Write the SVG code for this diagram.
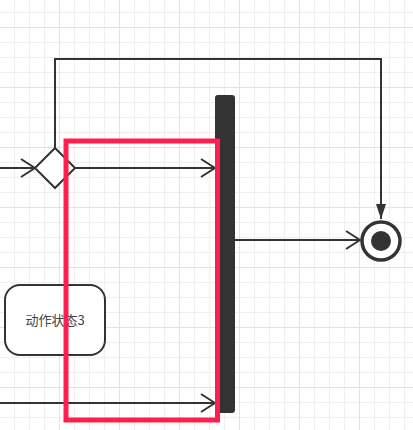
<svg xmlns="http://www.w3.org/2000/svg" width="413" height="430" viewBox="0 0 413 430">
  <defs>
    <pattern id="grid" x="0" y="0" width="60" height="60" patternUnits="userSpaceOnUse">
      <path d="M14.5 0V60M29.5 0V60M44.5 0V60M0 12.5H60M0 42.5H60M0 57.5H60" stroke="#efefef" stroke-width="1" fill="none"/>
      <path d="M59.5 0V60M0 27.5H60" stroke="#e3e3e3" stroke-width="1" fill="none"/>
    </pattern>
    <marker id="open" viewBox="0 0 16 20" refX="15" refY="10" markerWidth="16" markerHeight="20" markerUnits="userSpaceOnUse" orient="auto">
      <path d="M1 1L15 10L1 19" fill="none" stroke="#333" stroke-width="2"/>
    </marker>
    <marker id="filled" viewBox="0 0 16 12" refX="15" refY="6" markerWidth="16" markerHeight="12" markerUnits="userSpaceOnUse" orient="auto">
      <path d="M0 1L15 6L0 11Z" fill="#333"/>
    </marker>
  </defs>
  <style>
    .edge { fill: none; stroke: #333; stroke-width: 2; }
    .label { font-family: "Noto Sans CJK SC", "Liberation Sans", sans-serif; font-size: 13px; fill: #444; }
  </style>
  <rect width="413" height="430" fill="#fff"/>
  <rect width="413" height="430" fill="url(#grid)"/>

  <g id="connectors">
    <path class="edge" d="M0 168H35" marker-end="url(#open)"/>
    <path class="edge" d="M55 148V59H381V219" marker-end="url(#filled)"/>
    <path class="edge" d="M75 168H215" marker-end="url(#open)"/>
    <path class="edge" d="M235 240H360" marker-end="url(#open)"/>
    <path class="edge" d="M0 403H215" marker-end="url(#open)"/>
  </g>

  <g id="decision">
    <path d="M55 148L75 168L55 188L35 168Z" fill="#fff" stroke="#333" stroke-width="2"/>
  </g>

  <g id="join-bar">
    <rect x="215" y="95" width="20" height="318" rx="3" fill="#333"/>
  </g>

  <g id="final-state">
    <circle cx="381" cy="241" r="19" fill="#fff" stroke="#333" stroke-width="3.5"/>
    <circle cx="381" cy="241" r="10" fill="#333"/>
  </g>

  <g id="action-state-3">
    <rect x="5" y="285" width="100" height="70" rx="15" fill="#fff" stroke="#333" stroke-width="2"/>
    <text class="label" x="55" y="325" text-anchor="middle">动作状态3</text>
  </g>

  <g id="highlight">
    <rect x="66" y="141" width="151.5" height="279" fill="none" stroke="#ff1e50" stroke-width="5"/>
  </g>
</svg>
